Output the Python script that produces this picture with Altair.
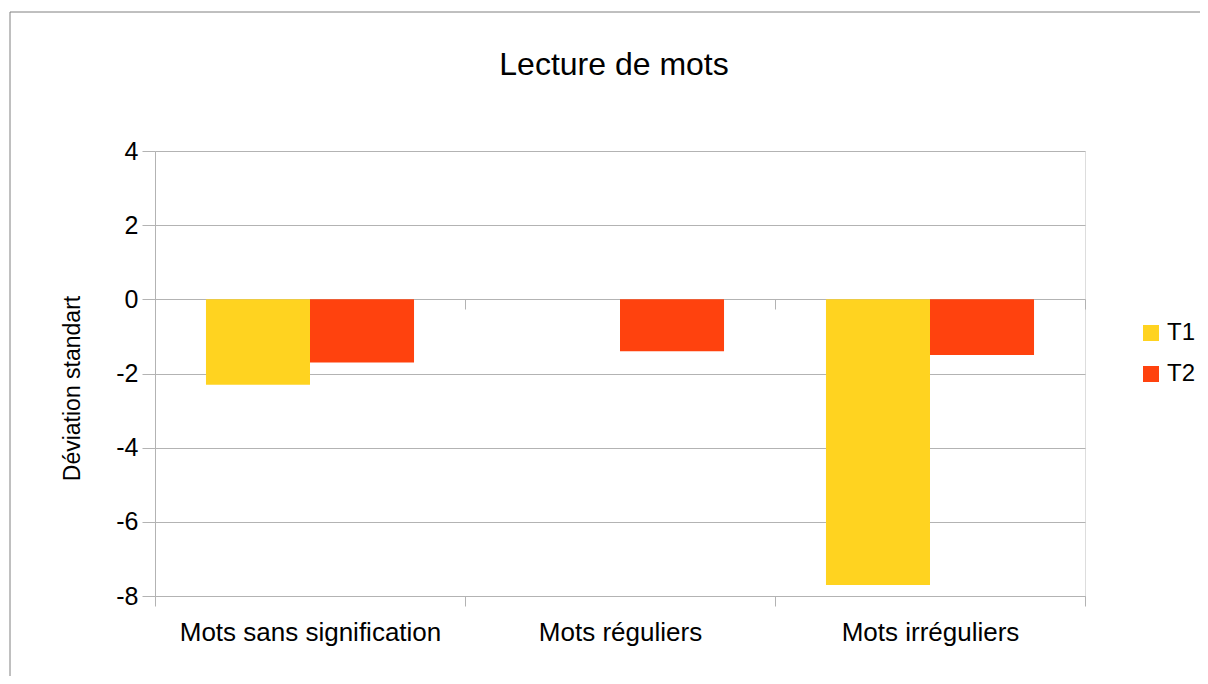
import altair as alt
import pandas as pd

categories = ["Mots sans signification", "Mots réguliers", "Mots irréguliers"]
series = ["T1", "T2"]
t1_values = [-2.3, 0.0, -7.7]
t2_values = [-1.7, -1.4, -1.5]
colors = ["#FFD320", "#FF420E"]
y_ticks = [4, 2, 0, -2, -4, -6, -8]

rows = []
for c, a, b in zip(categories, t1_values, t2_values):
    rows.append({"cat": c, "serie": "T1", "val": a})
    rows.append({"cat": c, "serie": "T2", "val": b})
df = pd.DataFrame(rows)

FONT = "Liberation Sans"
GRID = "#b3b3b3"

xscale = alt.Scale(domain=categories, paddingInner=0, paddingOuter=0)
yscale = alt.Scale(domain=[-8, 4], nice=False)

bars = alt.Chart(df).mark_bar().encode(
    x=alt.X("cat:N", scale=xscale, sort=categories,
            axis=alt.Axis(title=None, orient="bottom", labelAngle=0, labelFontSize=26,
                          labelFont=FONT, labelColor="#000000", labelPadding=13,
                          labelLimit=0,
                          tickBand="extent", tickSize=10, tickColor=GRID,
                          domainColor=GRID, grid=False)),
    xOffset=alt.XOffset("serie:N", sort=series,
                        scale=alt.Scale(paddingInner=0, paddingOuter=0.49)),
    y=alt.Y("val:Q", scale=yscale,
            axis=alt.Axis(title="Déviation standart", values=y_ticks, labelFontSize=25,
                          labelExpr="toString(datum.value)",
                          labelFont=FONT, labelColor="#000000", labelPadding=4,
                          tickSize=13, tickColor=GRID, domainColor=GRID,
                          gridColor=GRID, titleFont=FONT, titleFontSize=23,
                          titleFontWeight="normal", titleColor="#000000",
                          titleX=-83, titleY=237, titleAngle=-90,
                          titleAlign="center", titleBaseline="middle")),
    color=alt.Color("serie:N", sort=series,
                    scale=alt.Scale(domain=series, range=colors),
                    legend=alt.Legend(title=None, orient="none", legendX=984, legendY=170,
                                      symbolType="square", symbolSize=256,
                                      symbolStrokeWidth=0, labelFontSize=24,
                                      labelFont=FONT, labelColor="#000000",
                                      rowPadding=17, labelOffset=4)),
)

zero_ticks = alt.Chart(df).mark_point(opacity=0, size=0).encode(
    x=alt.X("cat:N", scale=xscale, sort=categories,
            axis=alt.Axis(title=None, orient="bottom", labels=False, domain=False,
                          tickBand="extent", tickSize=10, tickColor=GRID,
                          offset=-297, grid=False)),
    y=alt.Y("val:Q", scale=yscale),
)

frame = alt.Chart(pd.DataFrame({"a": [0]})).mark_rect(
    fill=None, stroke="#808080", strokeWidth=1
).encode(
    x=alt.value(-145), x2=alt.value(1200),
    y=alt.value(-139), y2=alt.value(700),
)

chart = alt.layer(frame, bars, zero_ticks).resolve_axis(x="independent").properties(
    width=930, height=445,
    title=alt.TitleParams("Lecture de mots", font=FONT, fontSize=32, fontWeight="normal",
                          color="#000000", anchor="middle", frame="group", offset=-70, dx=-6),
    autosize=alt.AutoSizeParams(type="none"),
    padding={"left": 147, "top": 143, "right": 115, "bottom": 80},
).configure_view(stroke=GRID).configure(background="white")

chart.save("out.html", embed_options={"renderer": "svg", "actions": False})
